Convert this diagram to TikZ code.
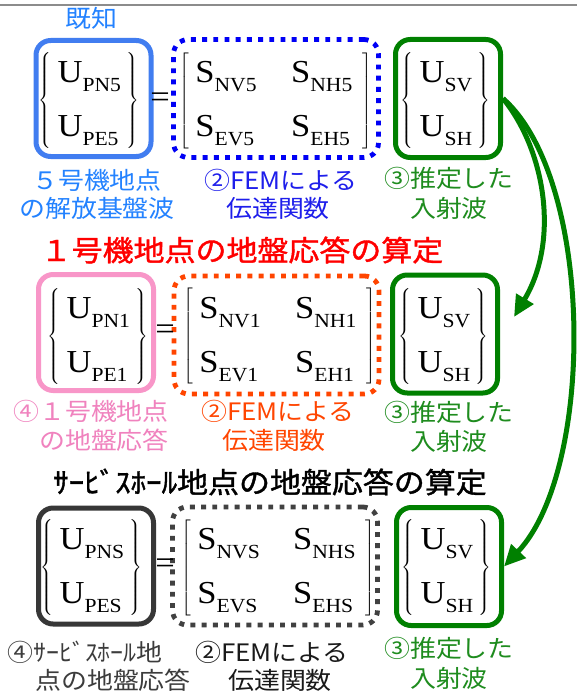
\documentclass[tikz,border=0pt]{standalone}
\usepackage{fontspec}
\setmainfont{Liberation Serif}
\newfontfamily\jp{Noto Sans CJK JP}
\newfontfamily\jpb[FakeBold=1.3]{Noto Sans CJK JP}
\usetikzlibrary{arrows.meta}
\definecolor{cBlueBox}{RGB}{65,125,240}
\definecolor{cBlueTxt}{RGB}{35,130,255}
\definecolor{cBlueDot}{RGB}{0,0,245}
\definecolor{cBlueFem}{RGB}{30,30,235}
\definecolor{cPinkBox}{RGB}{248,150,200}
\definecolor{cPinkTxt}{RGB}{240,130,190}
\definecolor{cOrange}{RGB}{255,69,0}
\definecolor{cGreen}{RGB}{0,128,0}
\definecolor{cGreenTxt}{RGB}{30,140,30}
\definecolor{cDarkBox}{RGB}{55,55,55}
\definecolor{cDarkDot}{RGB}{65,65,65}
\definecolor{cDarkTxt}{RGB}{60,60,60}
\definecolor{cFemBlack}{RGB}{25,25,25}
\definecolor{cRule}{RGB}{140,140,140}
\newcommand{\mysub}[1]{\raisebox{-6.75pt}{\fontsize{15}{15}\selectfont #1}}
\newcommand{\vecU}[2]{\fontsize{24}{24}\selectfont$\delimiterfactor=1000 \delimitershortfall=0pt \left\{\vcenter{\hbox{\rule{0pt}{71pt}}}\hspace{4.5pt}\vcenter{\baselineskip=40.5pt\lineskiplimit=-100pt\lineskip=0pt\hbox{\rule{0pt}{21pt}U\mysub{#1}}\hbox{U\mysub{#2}}}\hspace{4pt}\right\}$}
\newcommand{\matS}[4]{\fontsize{24}{24}\selectfont$\delimiterfactor=1000 \delimitershortfall=0pt \left[\vcenter{\hbox{\rule{0pt}{71pt}}}\hspace{4.5pt}\vcenter{\baselineskip=40.5pt\lineskiplimit=-100pt\lineskip=0pt\hbox{\rule{0pt}{21pt}\makebox[66.5pt][l]{S\mysub{#1}}S\mysub{#2}}\hbox{\makebox[66.5pt][l]{S\mysub{#3}}S\mysub{#4}}}\hspace{7pt}\right]$}
\begin{document}
\begin{tikzpicture}[x=0.75pt,y=-0.75pt,
  sbox/.style={draw, rounded corners=11pt, line width=3.75pt, minimum width=86.25pt, minimum height=87pt, inner sep=0pt},
  dbox/.style={draw, rounded corners=11pt, line width=3.6pt, dash pattern=on 3.7pt off 4.7pt, minimum width=153.75pt, minimum height=88.5pt, inner sep=0pt},
  gbox/.style={draw=cGreen, rounded corners=11pt, line width=3.75pt, minimum width=78.75pt, minimum height=88.5pt, inner sep=0pt},
  content/.style={inner sep=0pt, anchor=west, xscale=1.08},
  eqs/.style={inner sep=0pt, xscale=1.08, font=\fontsize{24}{24}\selectfont},
  lab/.style={inner sep=0pt, xscale=1.08, font=\jp\fontsize{18}{18}\selectfont},
  ttl/.style={inner sep=0pt, xscale=1.08, font=\jpb\fontsize{21.5}{21.5}\selectfont},
  garrow/.style={draw=cGreen, line width=3.75pt, -{Triangle[length=16pt,width=14.5pt]}}
]
\useasboundingbox (0,0) rectangle (577,692);
\fill[white] (0,0) rectangle (577,692);
\coordinate (r0) at (0,5);
\coordinate (r1) at (577,5);
\draw[cRule, line width=1.5pt] (r0) -- (r1);

% ---------- row 1 ----------
\node[lab, text=cBlueTxt] (known) at (91,18) {既知};
\node[sbox, draw=cBlueBox] (b1) at (93.5,98.5) {};
\node[dbox, draw=cBlueDot] (d1) at (276,98.5) {};
\node[gbox] (g1) at (448,98.5) {};
\node[content] (v1) at (38,100.5) {\vecU{PN5}{PE5}};
\node[eqs] (e1) at (160,100) {=};
\node[content] (m1) at (179,100.5) {\matS{NV5}{NH5}{EV5}{EH5}};
\node[content] (w1) at (400,100.5) {\vecU{SV}{SH}};
\node[lab, text=cBlueTxt] (l1a) at (97,180) {５号機地点};
\node[lab, text=cBlueTxt] (l1b) at (97,208) {の解放基盤波};
\node[lab, text=cBlueFem] (f1a) at (281,180) {②FEMによる};
\node[lab, text=cBlueFem] (f1b) at (278,208) {伝達関数};
\node[lab, text=cGreenTxt] (i1a) at (449,178) {③推定した};
\node[lab, text=cGreenTxt] (i1b) at (449,208) {入射波};

% ---------- row 2 ----------
\node[ttl, text=red] (t2) at (242,250) {１号機地点の地盤応答の算定};
\node[sbox, draw=cPinkBox] (b2) at (96,332.5) {};
\node[dbox, draw=cOrange] (d2) at (276.5,335) {};
\node[gbox] (g2) at (445,334) {};
\node[content] (v2) at (47,336) {\vecU{PN1}{PE1}};
\node[eqs] (e2) at (165,332) {=};
\node[content] (m2) at (183,336) {\matS{NV1}{NH1}{EV1}{EH1}};
\node[content] (w2) at (398,336) {\vecU{SV}{SH}};
\node[lab, text=cPinkTxt] (l2a) at (91,411) {④１号機地点};
\node[lab, text=cPinkTxt] (l2b) at (104,440) {の地盤応答};
\node[lab, text=cOrange] (f2a) at (278,411) {②FEMによる};
\node[lab, text=cOrange] (f2b) at (274,440) {伝達関数};
\node[lab, text=cGreenTxt] (i2a) at (449,412) {③推定した};
\node[lab, text=cGreenTxt] (i2b) at (449,441) {入射波};

% ---------- row 3 ----------
\node[ttl, text=black] (t3) at (270,482) {ｻｰﾋﾞｽﾎｰﾙ地点の地盤応答の算定};
\node[sbox, draw=cDarkBox] (b3) at (96,566) {};
\node[dbox, draw=cDarkDot] (d3) at (275,566) {};
\node[gbox] (g3) at (449,566.5) {};
\node[content] (v3) at (40,567.5) {\vecU{PNS}{PES}};
\node[eqs] (e3) at (165,566) {=};
\node[content] (m3) at (181,567.5) {\matS{NVS}{NHS}{EVS}{EHS}};
\node[content] (w3) at (401,567.5) {\vecU{SV}{SH}};
\node[lab, text=cDarkTxt] (l3a) at (85,652) {④ｻｰﾋﾞｽﾎｰﾙ地};
\node[lab, text=cDarkTxt] (l3b) at (113,680) {点の地盤応答};
\node[lab, text=cFemBlack] (f3a) at (272,652) {②FEMによる};
\node[lab, text=cFemBlack] (f3b) at (280,680) {伝達関数};
\node[lab, text=cGreenTxt] (i3a) at (449,648) {③推定した};
\node[lab, text=cGreenTxt] (i3b) at (449,678) {入射波};

% ---------- arrows ----------
\coordinate (t1) at (514,317);
\draw[garrow] (g1.east) .. controls (545,150) and (560,240) .. (t1);
\draw[garrow] (g1.east) .. controls (595,180) and (595,470) .. (g3.east);
\end{tikzpicture}
\end{document}
